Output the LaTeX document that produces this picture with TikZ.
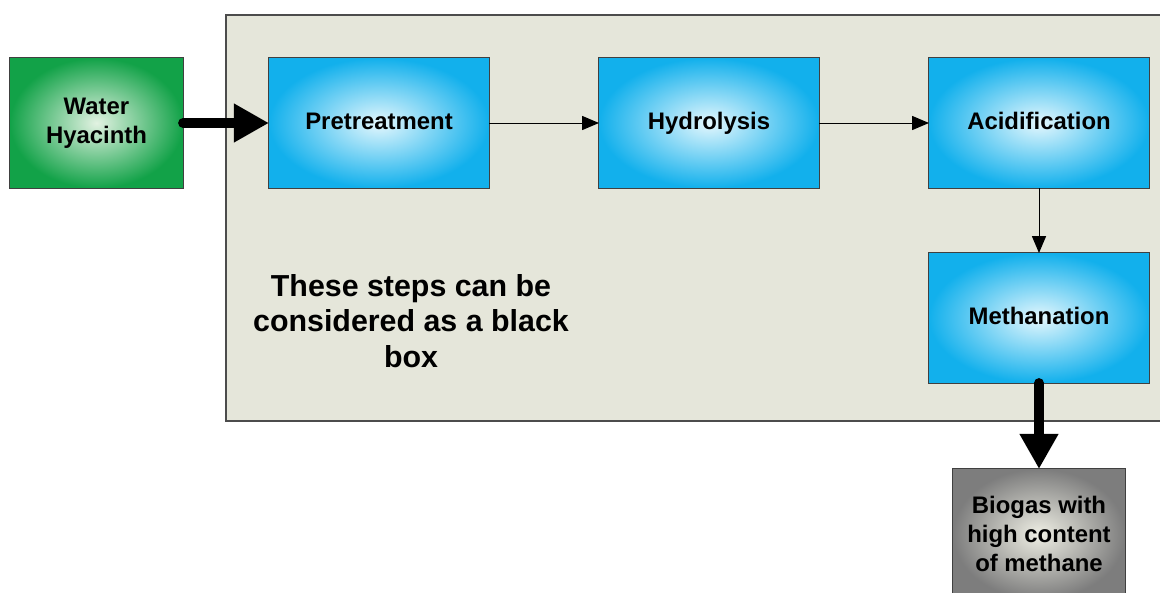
\documentclass[tikz,border=0pt]{standalone}
\usepackage{fontspec}
\setmainfont{Liberation Sans}
\usetikzlibrary{arrows.meta}
\definecolor{panelfill}{RGB}{229,230,218}
\definecolor{stageout}{RGB}{18,176,236}
\definecolor{stagein}{RGB}{228,247,253}
\definecolor{feedout}{RGB}{18,162,72}
\definecolor{feedin}{RGB}{226,242,226}
\definecolor{gasout}{RGB}{125,125,125}
\definecolor{gasin}{RGB}{238,238,228}

\begin{document}
\begin{tikzpicture}[
        x=0.025cm, y=-0.025cm,
        font=\bfseries\fontsize{17}{20.6}\selectfont,
        stage/.style={draw=black!75, line width=0.7pt, inner color=stagein, outer color=stageout,
            minimum width=5.5cm, minimum height=3.25cm, inner sep=0pt, outer sep=0pt, align=center,
            text height=0.9em, text depth=0pt},
        feed/.style={stage, text height=, text depth=, inner color=feedin, outer color=feedout, minimum width=4.325cm},
        product/.style={stage, text height=, text depth=, inner color=gasin, outer color=gasout, minimum width=4.3cm},
        flow/.style={-{Triangle[length=12pt, width=10pt]}, line width=0.7pt},
        bigflow/.style={-{Triangle[length=25pt, width=26pt]}, line width=7pt, line cap=round}
    ]
        % --- Marco de la imagen ---
        \useasboundingbox (0,0) rectangle (1160,593);
        \clip (0,0) rectangle (1160,593);

        % --- Caja negra ---
        \draw[draw=black!70, line width=1pt, fill=panelfill] (226,15) rectangle (1170,421);
        \node[font=\bfseries\fontsize{21.6}{25.3}\selectfont, align=center] (note) at (411,321)
            {These steps can be\\considered as a black\\box};

        % --- Etapas ---
        \node[feed] (water) at (96.5,123) {Water\\Hyacinth};
        \node[stage] (pre) at (379,123) {Pretreatment};
        \node[stage] (hyd) at (709,123) {Hydrolysis};
        \node[stage] (acid) at (1039,123) {Acidification};
        \node[stage] (meth) at (1039,318) {Methanation};
        \node[product] (gas) at (1039,534) {Biogas with\\high content\\of methane};

        % --- Flechas ---
        \draw[bigflow] (water.east) -- (pre.west);
        \draw[flow] (pre) -- (hyd);
        \draw[flow] (hyd) -- (acid);
        \draw[flow] (acid) -- (meth);
        \draw[bigflow] (meth.south) -- (gas.north);
    \end{tikzpicture}
\end{document}
